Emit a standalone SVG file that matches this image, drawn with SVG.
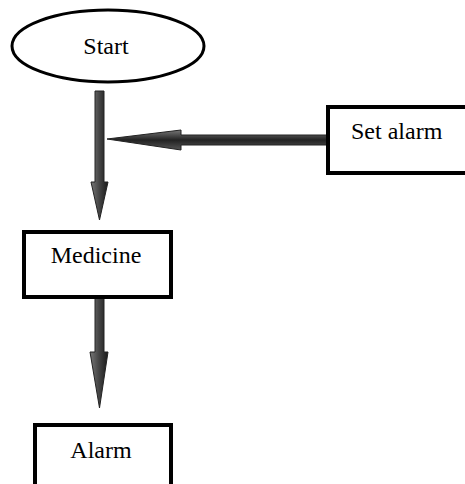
<svg xmlns="http://www.w3.org/2000/svg" width="465" height="484" viewBox="0 0 465 484">
<style>
.box{fill:#fff;stroke:#000;stroke-width:4}
.lbl{font-family:"Liberation Serif","Times New Roman",serif;font-size:24px;fill:#000}
.arr{stroke:#222;stroke-width:1}
</style>
<defs>
<linearGradient id="gv" x1="0" y1="0" x2="1" y2="0">
<stop offset="0" stop-color="#777"/>
<stop offset="0.5" stop-color="#444"/>
<stop offset="1" stop-color="#1a1a1a"/>
</linearGradient>
<linearGradient id="gh" x1="0" y1="0" x2="0" y2="1">
<stop offset="0" stop-color="#777"/>
<stop offset="0.5" stop-color="#222"/>
<stop offset="1" stop-color="#555"/>
</linearGradient>
</defs>
<rect width="465" height="484" fill="#fff"/>
<g id="connectors">
<path class="arr" fill="url(#gv)" d="M95,91 H104 V182 H108 L99.5,220 L91,182 H95 Z"/>
<path class="arr" fill="url(#gh)" d="M327,135 H181 V130 L107,139 L181,150 V145 H327 Z"/>
<path class="arr" fill="url(#gv)" d="M95,298 H104 V352 H108 L99.5,408 L90,352 H95 Z"/>
</g>
<g id="start">
<ellipse cx="108" cy="46" rx="96" ry="36" fill="#fff" stroke="#000" stroke-width="3"/>
<text class="lbl" x="106" y="54" text-anchor="middle">Start</text>
</g>
<g id="setalarm">
<rect class="box" x="328" y="107" width="139" height="66"/>
<text class="lbl" x="351" y="139">Set alarm</text>
</g>
<g id="medicine">
<rect class="box" x="24" y="232" width="147" height="65"/>
<text class="lbl" x="96" y="263" text-anchor="middle">Medicine</text>
</g>
<g id="alarm">
<rect class="box" x="35" y="425" width="136" height="62"/>
<text class="lbl" x="101" y="458" text-anchor="middle">Alarm</text>
</g>
</svg>
